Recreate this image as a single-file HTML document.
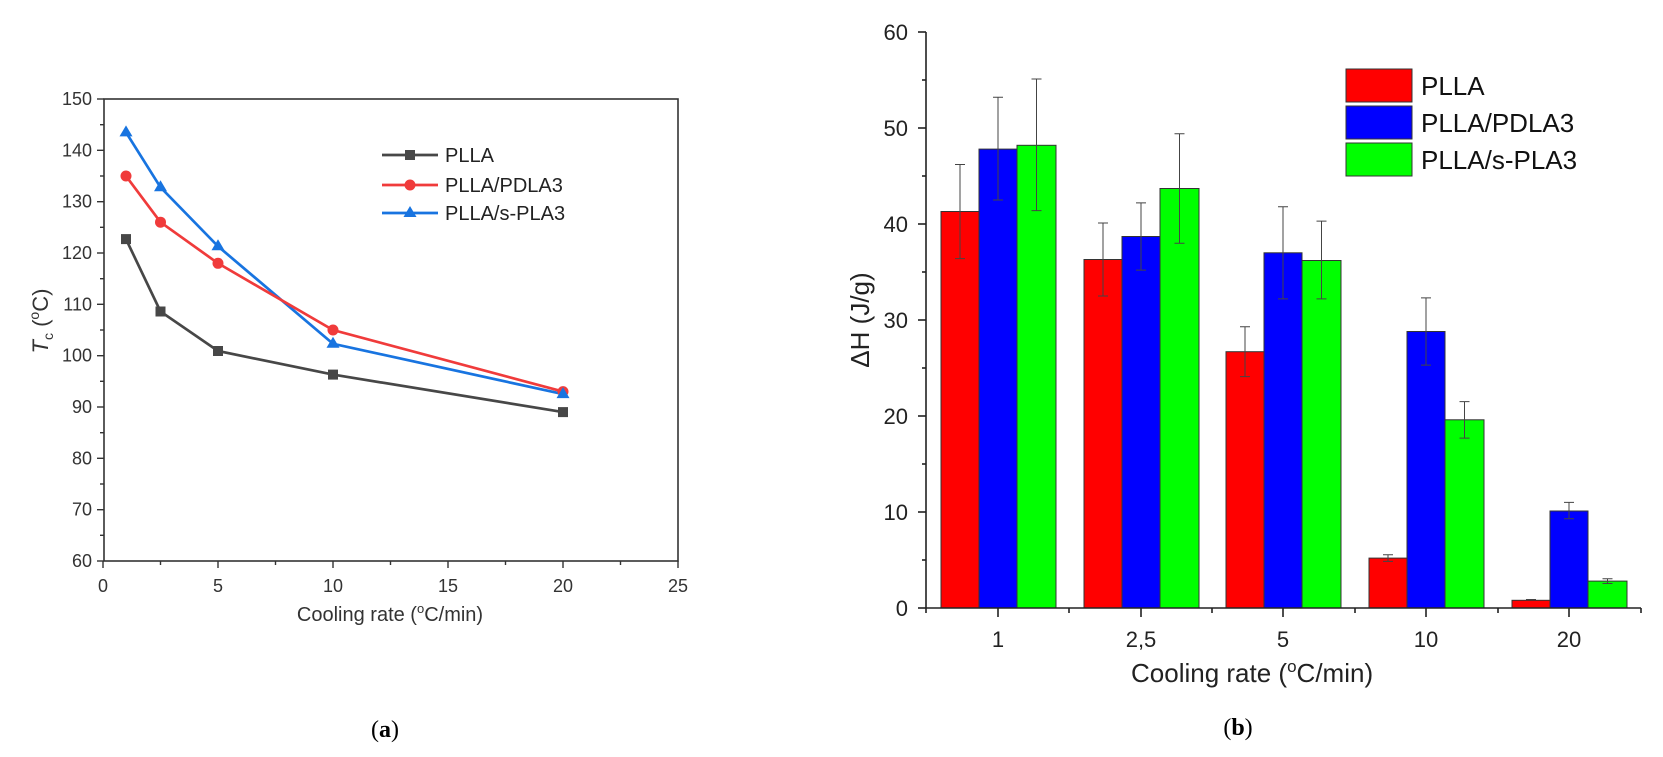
<!DOCTYPE html>
<html><head><meta charset="utf-8"><style>
html,body{margin:0;padding:0;background:#fff;}
svg{display:block;font-family:"Liberation Sans",Arial,sans-serif;}
</style></head><body>
<svg width="1663" height="757" viewBox="0 0 1663 757">
<!-- LEFT CHART -->
<g>
<rect x="104" y="99" width="574" height="462" fill="none" stroke="#333" stroke-width="1.6"/>
<g stroke="#333" stroke-width="1.4">
<line x1="104" y1="99" x2="97" y2="99"/><line x1="104" y1="150.3" x2="97" y2="150.3"/><line x1="104" y1="201.7" x2="97" y2="201.7"/><line x1="104" y1="253" x2="97" y2="253"/><line x1="104" y1="304.3" x2="97" y2="304.3"/><line x1="104" y1="355.7" x2="97" y2="355.7"/><line x1="104" y1="407" x2="97" y2="407"/><line x1="104" y1="458.3" x2="97" y2="458.3"/><line x1="104" y1="509.7" x2="97" y2="509.7"/><line x1="104" y1="561" x2="97" y2="561"/>
<line x1="104" y1="124.7" x2="100" y2="124.7"/><line x1="104" y1="176" x2="100" y2="176"/><line x1="104" y1="227.3" x2="100" y2="227.3"/><line x1="104" y1="278.7" x2="100" y2="278.7"/><line x1="104" y1="330" x2="100" y2="330"/><line x1="104" y1="381.3" x2="100" y2="381.3"/><line x1="104" y1="432.7" x2="100" y2="432.7"/><line x1="104" y1="484" x2="100" y2="484"/><line x1="104" y1="535.3" x2="100" y2="535.3"/>
<line x1="103" y1="561" x2="103" y2="568"/><line x1="218" y1="561" x2="218" y2="568"/><line x1="333" y1="561" x2="333" y2="568"/><line x1="448" y1="561" x2="448" y2="568"/><line x1="563" y1="561" x2="563" y2="568"/><line x1="678" y1="561" x2="678" y2="568"/>
<line x1="160.5" y1="561" x2="160.5" y2="565"/><line x1="275.5" y1="561" x2="275.5" y2="565"/><line x1="390.5" y1="561" x2="390.5" y2="565"/><line x1="505.5" y1="561" x2="505.5" y2="565"/><line x1="620.5" y1="561" x2="620.5" y2="565"/>
</g>
<g font-size="18" fill="#333" text-anchor="end">
<text x="92" y="105">150</text><text x="92" y="156.3">140</text><text x="92" y="207.7">130</text><text x="92" y="259">120</text><text x="92" y="310.3">110</text><text x="92" y="361.7">100</text><text x="92" y="413">90</text><text x="92" y="464.3">80</text><text x="92" y="515.7">70</text><text x="92" y="567">60</text>
</g>
<g font-size="18" fill="#333" text-anchor="middle">
<text x="103" y="592">0</text><text x="218" y="592">5</text><text x="333" y="592">10</text><text x="448" y="592">15</text><text x="563" y="592">20</text><text x="678" y="592">25</text>
</g>
<text x="390" y="621" font-size="20" fill="#333" text-anchor="middle">Cooling rate (<tspan font-size="13" dy="-8">o</tspan><tspan dy="8">C/min)</tspan></text>
<text transform="translate(48,321) rotate(-90)" font-size="22" fill="#333" text-anchor="middle"><tspan font-style="italic">T</tspan><tspan font-size="14" dy="5">c</tspan><tspan dy="-5"> (</tspan><tspan font-size="14" dy="-9">o</tspan><tspan dy="9">C)</tspan></text>
<polyline points="126,132.4 160.5,187.3 218,246.3 333,343.8 563,394.1" fill="none" stroke="#1874e0" stroke-width="2.7"/>
<polyline points="126,176 160.5,222.2 218,263.3 333,330 563,391.6" fill="none" stroke="#f03b3b" stroke-width="2.7"/>
<polyline points="126,239.1 160.5,311.5 218,351 333,374.6 563,412.1" fill="none" stroke="#474747" stroke-width="2.7"/>
<g fill="#474747"><rect x="121" y="234.1" width="10" height="10"/><rect x="155.5" y="306.5" width="10" height="10"/><rect x="213" y="346" width="10" height="10"/><rect x="328" y="369.6" width="10" height="10"/><rect x="558" y="407.1" width="10" height="10"/></g>
<g fill="#f03b3b"><circle cx="126" cy="176" r="5.5"/><circle cx="160.5" cy="222.2" r="5.5"/><circle cx="218" cy="263.3" r="5.5"/><circle cx="333" cy="330" r="5.5"/><circle cx="563" cy="391.6" r="5.5"/></g>
<g fill="#1874e0"><path d="M126,125.4 l6.5,11 h-13z"/><path d="M160.5,180.3 l6.5,11 h-13z"/><path d="M218,239.3 l6.5,11 h-13z"/><path d="M333,336.8 l6.5,11 h-13z"/><path d="M563,387.1 l6.5,11 h-13z"/></g>
<line x1="382" y1="155" x2="438" y2="155" stroke="#474747" stroke-width="2.7"/><rect x="405" y="150" width="10" height="10" fill="#474747"/>
<line x1="382" y1="185" x2="438" y2="185" stroke="#f03b3b" stroke-width="2.7"/><circle cx="410" cy="185" r="5.5" fill="#f03b3b"/>
<line x1="382" y1="213" x2="438" y2="213" stroke="#1874e0" stroke-width="2.7"/><path d="M410,206 l6.5,11 h-13z" fill="#1874e0"/>
<g font-size="20" fill="#222"><text x="445" y="162">PLLA</text><text x="445" y="192">PLLA/PDLA3</text><text x="445" y="220">PLLA/s-PLA3</text></g>
</g>
<text x="385" y="737" font-family="Liberation Serif,serif" font-size="24" text-anchor="middle">(<tspan font-weight="bold">a</tspan>)</text>

<!-- RIGHT CHART -->
<g>
<g stroke="#333" stroke-width="1">
<rect x="941" y="211.5" width="38" height="396.5" fill="#ff0000"/>
<rect x="979" y="149.1" width="38" height="458.9" fill="#0000ff"/>
<rect x="1017" y="145.3" width="39" height="462.7" fill="#00ff00"/>
<rect x="1084" y="259.5" width="38" height="348.5" fill="#ff0000"/>
<rect x="1122" y="236.5" width="38" height="371.5" fill="#0000ff"/>
<rect x="1160" y="188.5" width="39" height="419.5" fill="#00ff00"/>
<rect x="1226" y="351.7" width="38" height="256.3" fill="#ff0000"/>
<rect x="1264" y="252.8" width="38" height="355.2" fill="#0000ff"/>
<rect x="1302" y="260.5" width="39" height="347.5" fill="#00ff00"/>
<rect x="1369" y="558.1" width="38" height="49.9" fill="#ff0000"/>
<rect x="1407" y="331.5" width="38" height="276.5" fill="#0000ff"/>
<rect x="1445" y="419.8" width="39" height="188.2" fill="#00ff00"/>
<rect x="1512" y="600.3" width="38" height="7.7" fill="#ff0000"/>
<rect x="1550" y="511" width="38" height="97" fill="#0000ff"/>
<rect x="1588" y="581.1" width="39" height="26.9" fill="#00ff00"/>
</g>
<g stroke="#444" stroke-width="1" fill="none">
<path d="M960,164.5 V258.6 M955,164.5 h10 M955,258.6 h10"/>
<path d="M998,97.3 V200 M993,97.3 h10 M993,200 h10"/>
<path d="M1036.5,79 V210.6 M1031.5,79 h10 M1031.5,210.6 h10"/>
<path d="M1103,223 V296 M1098,223 h10 M1098,296 h10"/>
<path d="M1141,202.9 V270.1 M1136,202.9 h10 M1136,270.1 h10"/>
<path d="M1179.5,133.8 V243.2 M1174.5,133.8 h10 M1174.5,243.2 h10"/>
<path d="M1245,326.7 V376.6 M1240,326.7 h10 M1240,376.6 h10"/>
<path d="M1283,206.7 V298.9 M1278,206.7 h10 M1278,298.9 h10"/>
<path d="M1321.5,221.1 V298.9 M1316.5,221.1 h10 M1316.5,298.9 h10"/>
<path d="M1388,554.7 V561.4 M1383,554.7 h10 M1383,561.4 h10"/>
<path d="M1426,297.9 V365.1 M1421,297.9 h10 M1421,365.1 h10"/>
<path d="M1464.5,401.6 V438.1 M1459.5,401.6 h10 M1459.5,438.1 h10"/>
<path d="M1526,599.5 h10"/>
<path d="M1569,502.4 V518.7 M1564,502.4 h10 M1564,518.7 h10"/>
<path d="M1607.5,578.7 V583.5 M1602.5,578.7 h10 M1602.5,583.5 h10"/>
</g>
<g stroke="#222" stroke-width="1.6">
<line x1="926" y1="32" x2="926" y2="608"/>
<line x1="926" y1="608" x2="1641" y2="608"/>
<line x1="926" y1="32" x2="918" y2="32"/><line x1="926" y1="128" x2="918" y2="128"/><line x1="926" y1="224" x2="918" y2="224"/><line x1="926" y1="320" x2="918" y2="320"/><line x1="926" y1="416" x2="918" y2="416"/><line x1="926" y1="512" x2="918" y2="512"/><line x1="926" y1="608" x2="918" y2="608"/>
<line x1="926" y1="80" x2="922" y2="80"/><line x1="926" y1="176" x2="922" y2="176"/><line x1="926" y1="272" x2="922" y2="272"/><line x1="926" y1="368" x2="922" y2="368"/><line x1="926" y1="464" x2="922" y2="464"/><line x1="926" y1="560" x2="922" y2="560"/>
<line x1="998" y1="608" x2="998" y2="617"/><line x1="1141" y1="608" x2="1141" y2="617"/><line x1="1283" y1="608" x2="1283" y2="617"/><line x1="1426" y1="608" x2="1426" y2="617"/><line x1="1569" y1="608" x2="1569" y2="617"/>
<line x1="926" y1="608" x2="926" y2="613"/><line x1="1069" y1="608" x2="1069" y2="613"/><line x1="1212" y1="608" x2="1212" y2="613"/><line x1="1355" y1="608" x2="1355" y2="613"/><line x1="1498" y1="608" x2="1498" y2="613"/><line x1="1641" y1="608" x2="1641" y2="613"/>
</g>
<g font-size="22" fill="#222" text-anchor="end">
<text x="908" y="40">60</text><text x="908" y="136">50</text><text x="908" y="232">40</text><text x="908" y="328">30</text><text x="908" y="424">20</text><text x="908" y="520">10</text><text x="908" y="616">0</text>
</g>
<g font-size="22" fill="#222" text-anchor="middle">
<text x="998" y="647">1</text><text x="1141" y="647">2,5</text><text x="1283" y="647">5</text><text x="1426" y="647">10</text><text x="1569" y="647">20</text>
</g>
<text x="1131" y="682" font-size="26" fill="#222">Cooling rate (<tspan font-size="17" dy="-10">o</tspan><tspan dy="10">C/min)</tspan></text>
<text transform="translate(869,320) rotate(-90)" font-size="26" fill="#222" text-anchor="middle">ΔH (J/g)</text>
<g stroke="#333" stroke-width="1">
<rect x="1346" y="69" width="66" height="33" fill="#ff0000"/>
<rect x="1346" y="106" width="66" height="33" fill="#0000ff"/>
<rect x="1346" y="143" width="66" height="33" fill="#00ff00"/>
</g>
<g font-size="26" fill="#111"><text x="1421" y="95">PLLA</text><text x="1421" y="132">PLLA/PDLA3</text><text x="1421" y="169">PLLA/s-PLA3</text></g>
</g>
<text x="1238" y="735" font-family="Liberation Serif,serif" font-size="24" text-anchor="middle">(<tspan font-weight="bold">b</tspan>)</text>
</svg>
</body></html>
